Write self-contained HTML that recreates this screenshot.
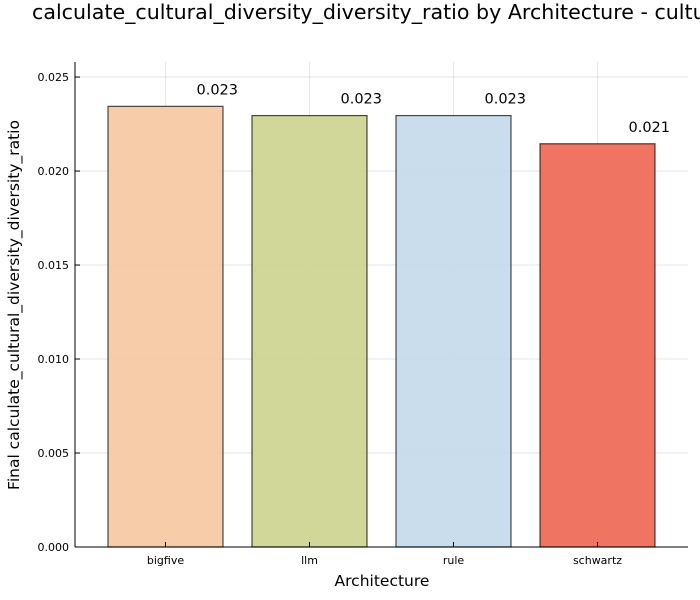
<!DOCTYPE html>
<html><head><meta charset="utf-8"><style>
body{margin:0;background:#fff;}
svg{display:block;font-family:"DejaVu Sans","Liberation Sans",sans-serif;}
</style></head><body>
<svg id="chart" width="700" height="600">
<rect width="700" height="600" fill="#fff"/>
<text x="32" y="19" font-size="20.6" fill="#000">calculate_cultural_diversity_diversity_ratio by Architecture - cultural</text>
<g id="grid"></g><g id="bars"></g><g id="axes"></g>
<text x="382" y="586" font-size="15.5" text-anchor="middle">Architecture</text>
<text transform="translate(19,305) rotate(-90)" font-size="15.5" text-anchor="middle">Final calculate_cultural_diversity_diversity_ratio</text>
</svg>
<script>
const categories=["bigfive","llm","rule","schwartz"];
const values=[0.02344,0.02295,0.02295,0.02145];
const valueLabels=["0.023","0.023","0.023","0.021"];
const colors=["#f5c9a4","#cfd593","#c6dbeb","#ef6d5a"];
const yTicks=[0,0.005,0.010,0.015,0.020,0.025];
const yTickLabels=["0.000","0.005","0.010","0.015","0.020","0.025"];
const NS="http://www.w3.org/2000/svg";
const L=75,R=688,T=62,B=547,yMax=0.0258;
const y=v=>B-(v/yMax)*(B-T);
const x0=165.5,step=144;
const xc=i=>x0+step*i;
const bw=115;
function mk(tag,attrs,parent){const e=document.createElementNS(NS,tag);for(const k in attrs)e.setAttribute(k,attrs[k]);document.getElementById(parent).appendChild(e);return e;}
yTicks.forEach((t,i)=>{
 const g=mk('line',{x1:L,x2:R,y1:y(t),y2:y(t),stroke:'#000','stroke-opacity':0.1,'stroke-width':1},'grid');
 
 
 const tk=mk('line',{x1:L,x2:L+5,y1:y(t),y2:y(t),stroke:'#000'},'axes');
 
 
 const tx=mk('text',{x:L-6,y:y(t)+4,'font-size':11,'text-anchor':'end'},'axes');tx.textContent=yTickLabels[i];
 
 
});
categories.forEach((c,i)=>{
 const gx=mk('line',{x1:xc(i),x2:xc(i),y1:T,y2:B,stroke:'#000','stroke-opacity':0.1},'grid');
 
 
 const r=mk('rect',{x:xc(i)-bw/2,y:y(values[i]),width:bw,height:B-y(values[i]),fill:colors[i],'fill-opacity':0.95,stroke:'#000','stroke-opacity':0.7,'stroke-width':1.2},'bars');
 
 
 const lb=mk('text',{x:xc(i)+31,y:y(values[i])-12,'font-size':14.5},'bars');lb.textContent=valueLabels[i];
 
 
 const tk=mk('line',{x1:xc(i),x2:xc(i),y1:B,y2:B-5,stroke:'#000'},'axes');
 
 
 const tx=mk('text',{x:xc(i),y:B+17,'font-size':11,'text-anchor':'middle'},'axes');tx.textContent=c;
 
 
});
const ax=mk('line',{x1:L,x2:L,y1:T,y2:B,stroke:'#000'},'axes');


const axx=mk('line',{x1:L,x2:R,y1:B,y2:B,stroke:'#000'},'axes');


</script>
</body></html>
